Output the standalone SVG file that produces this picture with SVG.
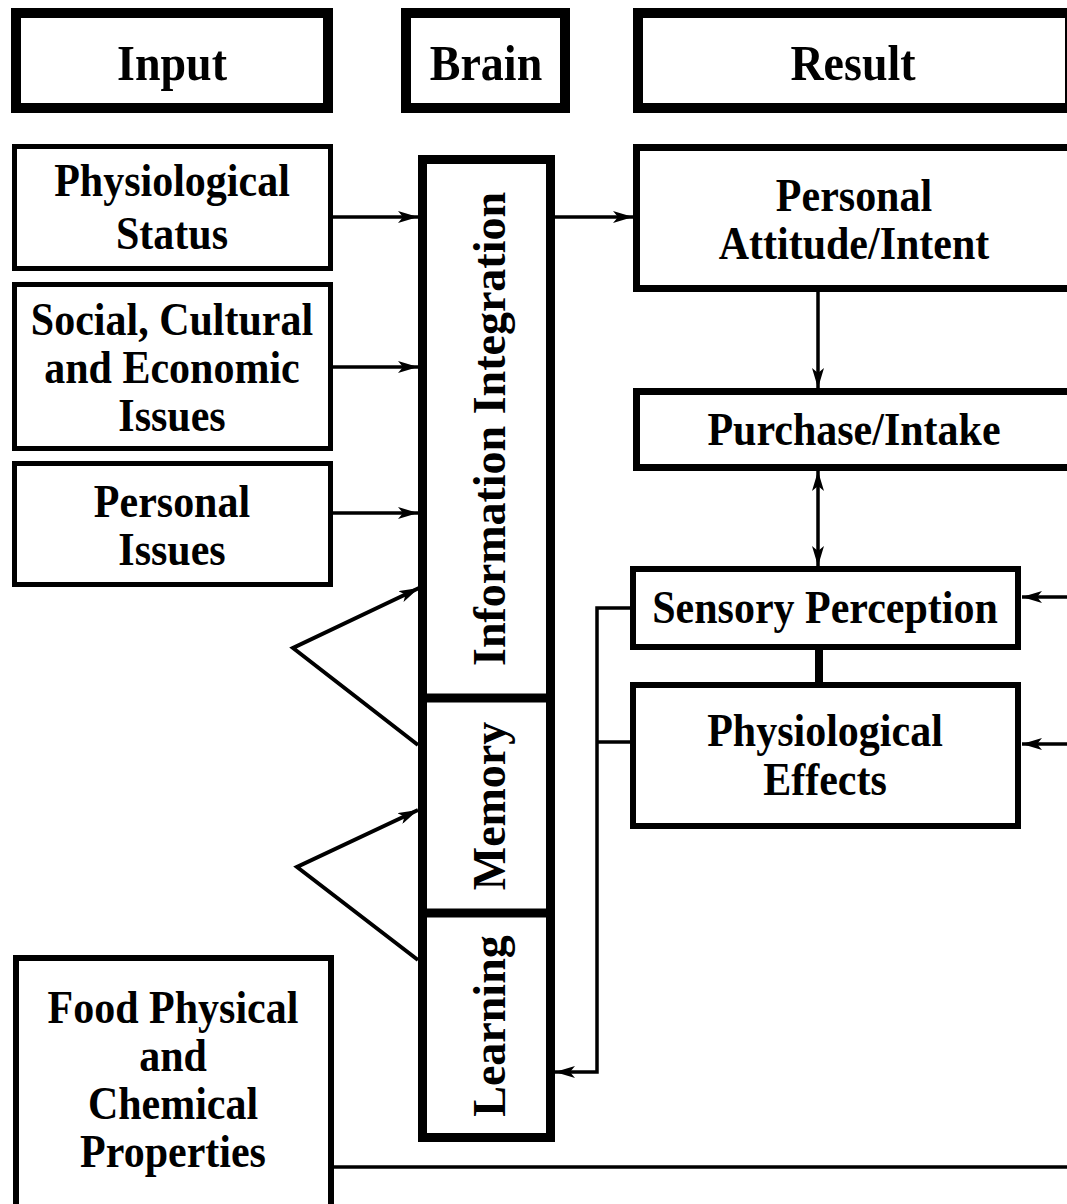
<svg xmlns="http://www.w3.org/2000/svg" width="1067" height="1204" viewBox="0 0 1067 1204">
<style>
  .bg{fill:#fff}
  .hdr{fill:#fff;stroke:#000;stroke-width:10}
  .inp{fill:#fff;stroke:#000;stroke-width:5}
  .brain{fill:#fff;stroke:#000;stroke-width:9}
  .res{fill:#fff;stroke:#000;stroke-width:7}
  .res2{fill:#fff;stroke:#000;stroke-width:6}
  .t{font-family:"Liberation Serif","Times New Roman",serif;font-weight:bold;fill:#000;text-anchor:middle}
  .t42{font-size:42px}
  .t46{font-size:46px}
  .c{fill:none;stroke:#000;stroke-width:3.5}
</style>
<defs>
  <marker id="ah" markerUnits="userSpaceOnUse" markerWidth="20" markerHeight="12" refX="20" refY="6" orient="auto-start-reverse">
    <path d="M0,0 L20,6 L0,12 L5,6 z" fill="#000"/>
  </marker>
</defs>
<rect class="bg" x="0" y="0" width="1067" height="1204"/>

<g id="hdr-input">
  <rect class="hdr" x="16" y="13" width="312" height="95"/>
  <text class="t t46" transform="translate(172,80) scale(1,1.12)">Input</text>
</g>
<g id="hdr-brain">
  <rect class="hdr" x="406" y="13" width="159" height="95"/>
  <text class="t t46" transform="translate(486,80) scale(1,1.12)">Brain</text>
</g>
<g id="hdr-result">
  <rect class="hdr" x="638" y="13" width="432" height="95"/>
  <text class="t t46" transform="translate(853,80) scale(1,1.12)">Result</text>
</g>

<g id="physiological-status">
  <rect class="inp" x="14.5" y="146.5" width="316" height="122"/>
  <text class="t t42" transform="translate(172,196) scale(1,1.12)"><tspan x="0" y="0">Physiological</tspan><tspan x="0" y="47.3">Status</tspan></text>
</g>
<g id="social-cultural-economic">
  <rect class="inp" x="14.5" y="284.5" width="316" height="164"/>
  <text class="t t42" transform="translate(172,335) scale(1,1.12)"><tspan x="0" y="0">Social, Cultural</tspan><tspan x="0" y="42.9">and Economic</tspan><tspan x="0" y="85.7">Issues</tspan></text>
</g>
<g id="personal-issues">
  <rect class="inp" x="14.5" y="463.5" width="316" height="121"/>
  <text class="t t42" transform="translate(172,517) scale(1,1.12)"><tspan x="0" y="0">Personal</tspan><tspan x="0" y="42.9">Issues</tspan></text>
</g>
<g id="food-properties">
  <rect class="inp" x="16" y="958" width="315" height="260" style="stroke-width:6"/>
  <text class="t t42" transform="translate(173,1023) scale(1,1.12)"><tspan x="0" y="0">Food Physical</tspan><tspan x="0" y="42.9">and</tspan><tspan x="0" y="85.7">Chemical</tspan><tspan x="0" y="128.6">Properties</tspan></text>
</g>

<g id="brain-column">
  <rect class="brain" x="422.5" y="159.5" width="128" height="978"/>
  <line x1="418" y1="698" x2="555" y2="698" stroke="#000" stroke-width="9"/>
  <line x1="418" y1="913" x2="555" y2="913" stroke="#000" stroke-width="9"/>
</g>
<g id="information-integration">
  <text class="t t46" transform="translate(505,429) rotate(-90)">Information Integration</text>
</g>
<g id="memory">
  <text class="t t46" transform="translate(505,806) rotate(-90)">Memory</text>
</g>
<g id="learning">
  <text class="t t46" transform="translate(505,1026) rotate(-90)">Learning</text>
</g>

<g id="personal-attitude">
  <rect class="res" x="636.5" y="147.5" width="440" height="141"/>
  <text class="t t42" transform="translate(854,211) scale(1,1.12)"><tspan x="0" y="0">Personal</tspan><tspan x="0" y="43.3">Attitude/Intent</tspan></text>
</g>
<g id="purchase-intake">
  <rect class="res" x="636.5" y="391.5" width="440" height="76"/>
  <text class="t t42" transform="translate(854,445) scale(1,1.12)">Purchase/Intake</text>
</g>
<g id="sensory-perception">
  <rect class="res2" x="633" y="569" width="385" height="78"/>
  <text class="t t42" transform="translate(825,623) scale(1,1.12)">Sensory Perception</text>
</g>
<g id="physiological-effects">
  <rect class="res2" x="633" y="685" width="385" height="141"/>
  <text class="t t42" transform="translate(825,746) scale(1,1.12)"><tspan x="0" y="0">Physiological</tspan><tspan x="0" y="43.75">Effects</tspan></text>
</g>

<g id="connectors">
  <path class="c" d="M330,217 H418" marker-end="url(#ah)"/>
  <path class="c" d="M330,367 H418" marker-end="url(#ah)"/>
  <path class="c" d="M330,513 H418" marker-end="url(#ah)"/>
  <path class="c" d="M555,217 H633" marker-end="url(#ah)"/>
  <path class="c" d="M818,292 V388" marker-end="url(#ah)"/>
  <path class="c" d="M818,471 V566" marker-start="url(#ah)" marker-end="url(#ah)"/>
  <path d="M819,650 V682" stroke="#000" stroke-width="8" fill="none"/>
  <path class="c" d="M1067,597 H1022" marker-end="url(#ah)"/>
  <path class="c" d="M1067,744 H1022" marker-end="url(#ah)"/>
  <path class="c" d="M630,608 H597 V1072 H555" marker-end="url(#ah)"/>
  <path class="c" d="M630,742 H597"/>
  <path class="c" d="M331,1167 H1067"/>
  <path class="c" d="M418,745 L293,648 L419,588" marker-end="url(#ah)" style="stroke-width:4"/>
  <path class="c" d="M418,960 L297,867 L418,810" marker-end="url(#ah)" style="stroke-width:4"/>
</g>
</svg>
